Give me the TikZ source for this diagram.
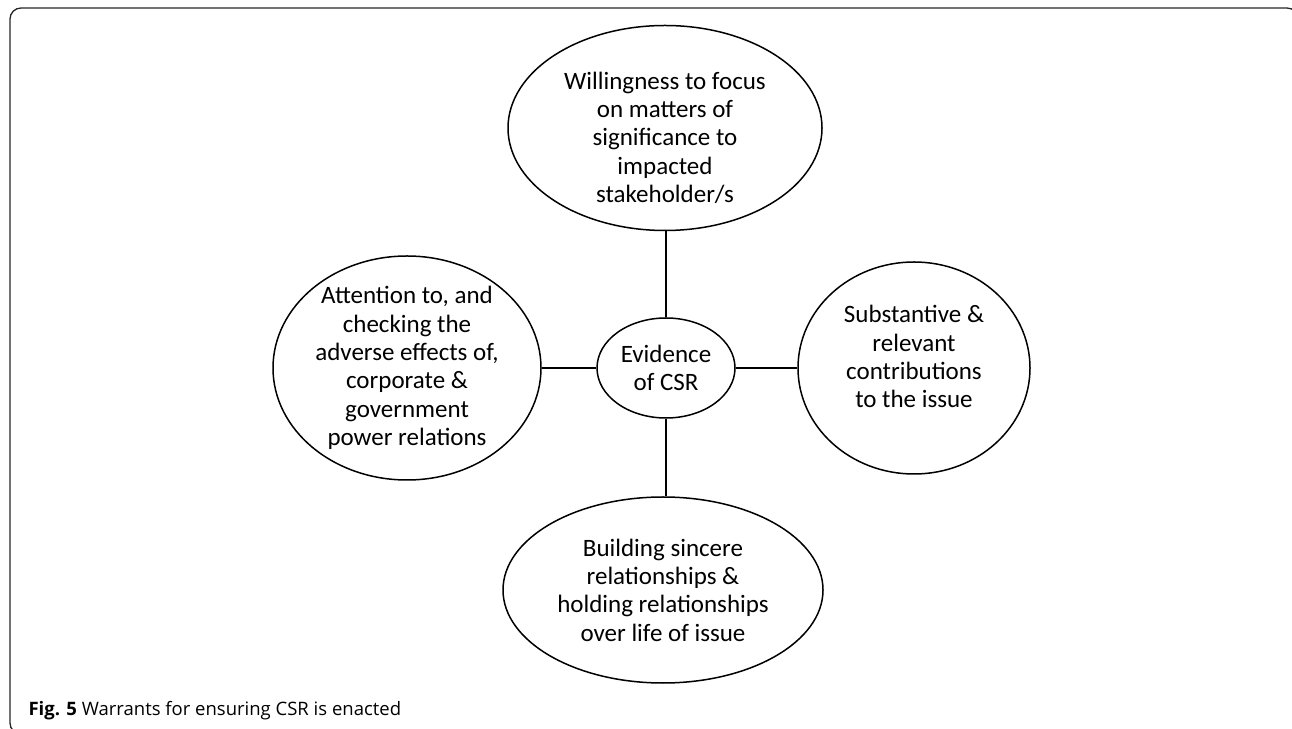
\documentclass[tikz,border=0pt]{standalone}
\usepackage{fontspec}
\setmainfont{Carlito}
\newfontfamily\captionfont{Open Sans}
\usetikzlibrary{shapes.geometric}
\tikzstyle{warrant} = [ellipse, inner sep=-40pt, draw=black, line width=1.5pt, align=center, text centered, font=\fontsize{25}{28.3}\selectfont]
\tikzstyle{evidence} = [ellipse, inner sep=-40pt, minimum width=138pt, minimum height=100pt, draw=black, line width=1.5pt, align=center, font=\fontsize{25}{28.3}\selectfont]
\tikzstyle{link} = [line width=1.5pt]
\tikzstyle{frame} = [line width=1.3pt, draw=black!85, rounded corners=11pt]
% struts to move the text off the centre of its ellipse
\newcommand{\padtop}[1]{\rule{0pt}{#1}}
\newcommand{\padbottom}[1]{\rule[-#1]{0pt}{#1}}

\begin{document}
\begin{tikzpicture}[x=1pt, y=1pt, node distance=240pt]
        \useasboundingbox (0,0) rectangle (1292,728);
        \draw [frame] (10,-6) rectangle (1298,720);

        \node (CSR) [evidence] at (666,360) {Evidence\\of CSR};
        \node (Willing) [warrant, above of=CSR, xshift=-1pt, minimum width=314pt, minimum height=205pt] {\padtop{37pt}Willingness to focus\\on matters of\\significance to\\impacted\\stakeholder/s};
        \node (Attention) [warrant, left of=CSR, xshift=-19pt, minimum width=268pt, minimum height=224pt] {Attention to, and\\checking the\\adverse effects of,\\corporate \&\\government\\power relations};
        \node (Substantive) [warrant, right of=CSR, xshift=8pt, minimum width=232pt, minimum height=212pt] {Substantive \&\\relevant\\contributions\\to the issue\padbottom{23pt}};
        \node (Building) [warrant, below of=CSR, yshift=18pt, xshift=-3pt, minimum width=320pt, minimum height=186pt] {Building sincere\\relationships \&\\holding relationships\\over life of issue};

        \node (caption) [anchor=base west, font=\captionfont\fontsize{18.5}{22}\selectfont] at (25,13) {\textbf{Fig. 5} Warrants for ensuring CSR is enacted};

        \draw [link] (CSR.north) -- (CSR.north |- Willing.south);
        \draw [link] (CSR.south) -- (CSR.south |- Building.north);
        \draw [link] (CSR.west) -- (Attention.east);
        \draw [link] (CSR.east) -- (Substantive.west);
\end{tikzpicture}
\end{document}
